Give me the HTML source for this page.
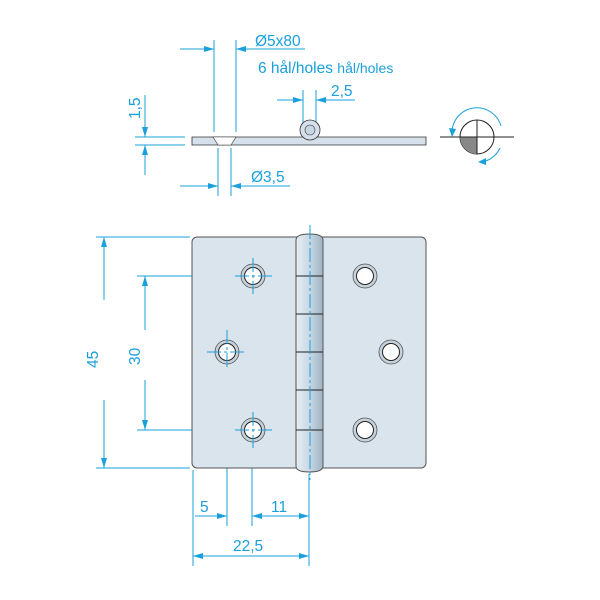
<!DOCTYPE html>
<html><head><meta charset="utf-8"><style>body{margin:0;background:#fff}svg{display:block}</style></head><body>
<svg width="600" height="600" viewBox="0 0 600 600" xmlns="http://www.w3.org/2000/svg" font-family="Liberation Sans, sans-serif">
<defs>
<marker id="a" viewBox="0 0 10 6" refX="10" refY="3" markerWidth="10" markerHeight="6" orient="auto-start-reverse" markerUnits="userSpaceOnUse"><path d="M0,0L10,3L0,6z" fill="#1aa0dc"/></marker>
<linearGradient id="k" x1="0" x2="1"><stop offset="0" stop-color="#e6eef4"/><stop offset="0.5" stop-color="#c8d8e4"/><stop offset="1" stop-color="#9fb4c4"/></linearGradient>
</defs>
<g stroke="#1aa0dc" stroke-width="1" fill="none">
<line x1="214" y1="40" x2="214" y2="132"/><line x1="236" y1="40" x2="236" y2="132"/>
<line x1="180" y1="49" x2="214" y2="49" marker-end="url(#a)"/><line x1="305" y1="49" x2="236" y2="49" marker-end="url(#a)"/>
<line x1="303" y1="90" x2="303" y2="125"/><line x1="316" y1="90" x2="316" y2="125"/>
<line x1="277" y1="100" x2="303" y2="100" marker-end="url(#a)"/><line x1="355" y1="100" x2="316" y2="100" marker-end="url(#a)"/>
<line x1="218" y1="148" x2="218" y2="196"/><line x1="231" y1="148" x2="231" y2="196"/>
<line x1="180" y1="186" x2="218" y2="186" marker-end="url(#a)"/><line x1="290" y1="186" x2="231" y2="186" marker-end="url(#a)"/>
<line x1="135" y1="137" x2="185" y2="137"/><line x1="135" y1="145" x2="185" y2="145"/>
<line x1="145" y1="95" x2="145" y2="137" marker-end="url(#a)"/><line x1="145" y1="175" x2="145" y2="145" marker-end="url(#a)"/>
<line x1="440" y1="137" x2="514" y2="137" stroke="#222"/>
<path d="M452,131 A25,25 0 0 1 501,126"/>
<path d="M500,148 A25,25 0 0 1 482,162"/>
<line x1="96" y1="237" x2="190" y2="237"/><line x1="96" y1="468" x2="190" y2="468"/>
<line x1="104" y1="300" x2="104" y2="237" marker-end="url(#a)"/><line x1="104" y1="400" x2="104" y2="468" marker-end="url(#a)"/>
<line x1="137" y1="276" x2="241" y2="276"/><line x1="137" y1="430" x2="241" y2="430"/>
<line x1="145" y1="330" x2="145" y2="276" marker-end="url(#a)"/><line x1="145" y1="380" x2="145" y2="430" marker-end="url(#a)"/>
<line x1="193" y1="470" x2="193" y2="566"/><line x1="227" y1="330" x2="227" y2="526"/><line x1="252" y1="440" x2="252" y2="526"/><line x1="309" y1="474" x2="309" y2="566"/>
<line x1="195" y1="516" x2="227" y2="516" marker-end="url(#a)"/><line x1="275" y1="516" x2="252" y2="516" marker-end="url(#a)"/><line x1="275" y1="516" x2="309" y2="516" marker-end="url(#a)"/>
<line x1="250" y1="556" x2="193" y2="556" marker-end="url(#a)"/><line x1="250" y1="556" x2="309" y2="556" marker-end="url(#a)"/>
</g>
<path d="M449,128 l3,9 l4,-8z" fill="#1aa0dc"/><path d="M478,162 l8,-4 l0,7z" fill="#1aa0dc"/>
<circle cx="477" cy="137" r="17" fill="#fff" stroke="#222"/>
<path d="M477,137 L460,137 A17,17 0 0 0 477,154 Z" fill="#888"/>
<line x1="477" y1="120" x2="477" y2="154" stroke="#222"/>
<line x1="460" y1="137" x2="494" y2="137" stroke="#222"/>
<path d="M192,137 H426 V145 H192 Z" fill="#d5e0ea" stroke="#333" stroke-width="0.8"/>
<path d="M213,137 L236,137 L231,145 L218,145 Z" fill="#fff" stroke="#333" stroke-width="0.6"/>
<circle cx="310" cy="130" r="10" fill="#d5e0ea" stroke="#333" stroke-width="0.8"/>
<circle cx="310" cy="130" r="5" fill="#c8d6e2" stroke="#333" stroke-width="0.6"/>
<rect x="192" y="237" width="234" height="231" rx="5" fill="#dae4ec" stroke="#555" stroke-width="1"/>
<path d="M296,240 Q296,234 309.5,234 Q323,234 323,240 V466 Q323,472 309.5,472 Q296,472 296,466 Z" fill="url(#k)" stroke="#555"/>
<g stroke="#222" stroke-width="1"><line x1="296" y1="276" x2="323" y2="276"/><line x1="296" y1="314" x2="323" y2="314"/><line x1="296" y1="352" x2="323" y2="352"/><line x1="296" y1="390" x2="323" y2="390"/><line x1="296" y1="430" x2="323" y2="430"/></g>
<g fill="#c5d2dc" stroke="#555" stroke-width="0.8">
<circle cx="253" cy="276" r="12"/><circle cx="227" cy="352" r="12"/><circle cx="253" cy="430" r="12"/>
<circle cx="365" cy="276" r="12"/><circle cx="391" cy="352" r="12"/><circle cx="365" cy="430" r="12"/>
</g>
<g fill="#fff" stroke="#222" stroke-width="1">
<circle cx="253" cy="276" r="8.5"/><circle cx="227" cy="352" r="8.5"/><circle cx="253" cy="430" r="8.5"/>
<circle cx="365" cy="276" r="8.5"/><circle cx="391" cy="352" r="8.5"/><circle cx="365" cy="430" r="8.5"/>
</g>
<g stroke="#1aa0dc" stroke-width="1" stroke-dasharray="14,3,3,3">
<line x1="310" y1="225" x2="310" y2="480"/>
<line x1="253" y1="258" x2="253" y2="294"/><line x1="235" y1="276" x2="273" y2="276"/>
<line x1="253" y1="412" x2="253" y2="448"/><line x1="235" y1="430" x2="273" y2="430"/>
<line x1="227" y1="330" x2="227" y2="370"/><line x1="207" y1="352" x2="247" y2="352"/>
</g>
<g fill="#1aa0dc" font-size="15.5">
<text x="255" y="46">Ø5x80</text>
<text x="258" y="73">6 hål/holes <tspan font-size="14">hål/holes</tspan></text>
<text x="331" y="96">2,5</text>
<text x="251" y="182">Ø3,5</text>
<text transform="translate(140,119) rotate(-90)">1,5</text>
<text transform="translate(98,368) rotate(-90)">45</text>
<text transform="translate(140,365) rotate(-90)">30</text>
<text x="200" y="512">5</text>
<text x="271" y="512">11</text>
<text x="233" y="551">22,5</text>
</g>
</svg>
</body></html>
